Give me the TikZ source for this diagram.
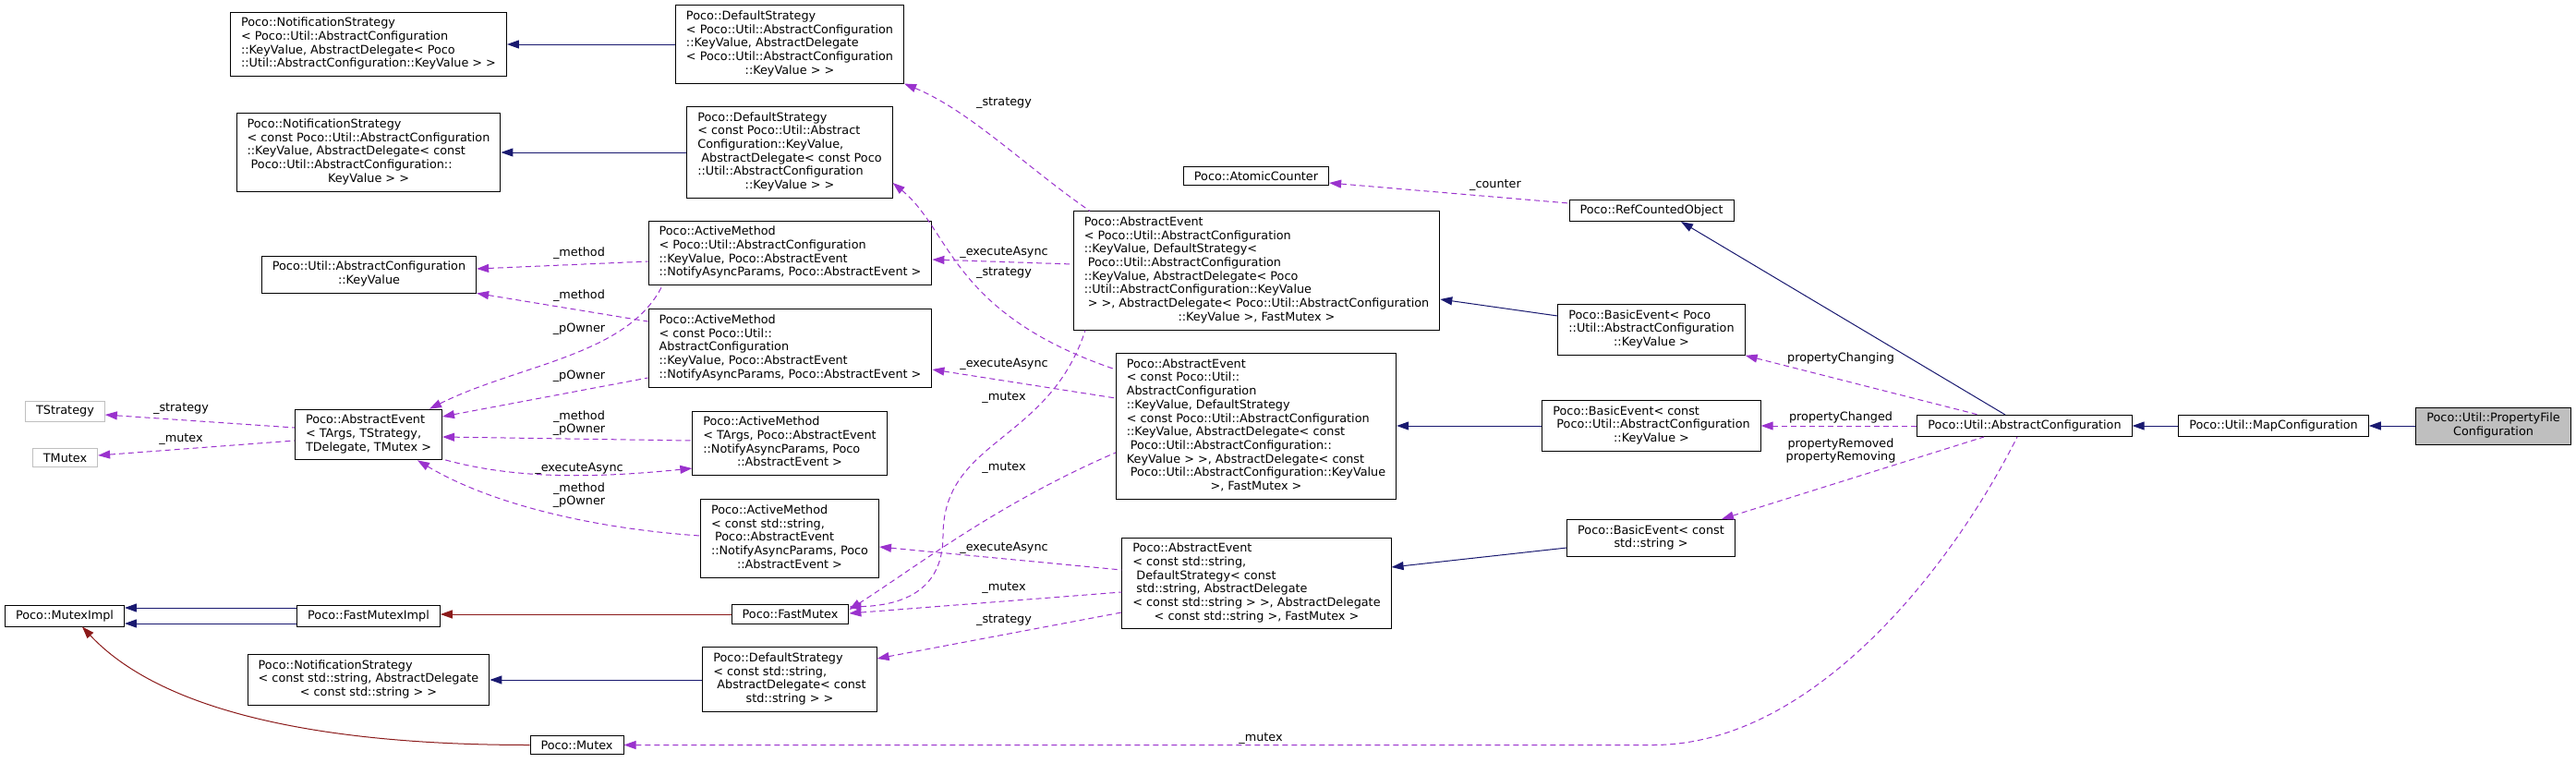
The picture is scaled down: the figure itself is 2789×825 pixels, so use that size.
\documentclass[tikz,border=0pt]{standalone}
\usepackage{fontspec}
\setmainfont{DejaVu Sans}
\usepackage{tikz}
\usetikzlibrary{arrows.meta,calc,positioning}
\definecolor{edgeblue}{HTML}{191970}
\definecolor{edgered}{HTML}{8B1A1A}
\definecolor{edgepurple}{HTML}{9A32CD}
\definecolor{nodegray}{HTML}{BFBFBF}
\newcommand{\rows}[1]{\begin{tabular}{@{}l@{}}#1\end{tabular}}
\newcommand{\lastc}[1]{\multicolumn{1}{@{}c@{}}{#1}}
\begin{document}
\begin{tikzpicture}[x=1pt, y=-1pt,
    font=\fontsize{12.8}{14.7}\selectfont,
    cls/.style={draw, fill=white, line width=1pt, inner xsep=11.5pt, inner ysep=5.3pt},
    tmpl/.style={cls, draw=nodegray},
    focus/.style={cls, fill=nodegray},
    lbl/.style={inner sep=0pt, align=center},
    inh/.style={{Triangle[length=13pt,width=9pt]}-, edgeblue, line width=1pt},
    priv/.style={inh, edgered},
    uses/.style={{Triangle[length=13pt,width=9pt]}-, edgepurple, line width=1pt, dash pattern=on 6pt off 4pt}]
\useasboundingbox (0,0) rectangle (2789,825);

% left column
\node[cls] (nsKV) at (399,48) {\rows{Poco::NotificationStrategy\\< Poco::Util::AbstractConfiguration\\::KeyValue, AbstractDelegate< Poco\\\lastc{::Util::AbstractConfiguration::KeyValue > >}}};
\node[cls] (nsCKV) at (399,165) {\rows{Poco::NotificationStrategy\\< const Poco::Util::AbstractConfiguration\\::KeyValue, AbstractDelegate< const\\\ Poco::Util::AbstractConfiguration::\\\lastc{KeyValue > >}}};
\node[cls] (kv) at (399.5,297) {\rows{Poco::Util::AbstractConfiguration\\\lastc{::KeyValue}}};
\node[tmpl] (tstrat) at (70.5,445.5) {TStrategy};
\node[tmpl] (tmutex) at (70.5,495.5) {TMutex};
\node[cls] (aeGen) at (399,470.5) {\rows{Poco::AbstractEvent\\< TArgs, TStrategy,\\\lastc{TDelegate, TMutex >}}};
\node[cls] (mutexImpl) at (70,666.5) {Poco::MutexImpl};
\node[cls] (fmImpl) at (399,666.5) {Poco::FastMutexImpl};
\node[cls] (nsStr) at (399,736) {\rows{Poco::NotificationStrategy\\< const std::string, AbstractDelegate\\\lastc{< const std::string > >}}};
\node[cls] (mutex) at (624.5,806.5) {Poco::Mutex};

% strategies and active methods
\node[cls] (dsKV) at (855,48) {\rows{Poco::DefaultStrategy\\< Poco::Util::AbstractConfiguration\\::KeyValue, AbstractDelegate\\< Poco::Util::AbstractConfiguration\\\lastc{::KeyValue > >}}};
\node[cls] (dsCKV) at (855,165) {\rows{Poco::DefaultStrategy\\< const Poco::Util::Abstract\\Configuration::KeyValue,\\\ AbstractDelegate< const Poco\\::Util::AbstractConfiguration\\\lastc{::KeyValue > >}}};
\node[cls] (amKV) at (855.5,274) {\rows{Poco::ActiveMethod\\< Poco::Util::AbstractConfiguration\\::KeyValue, Poco::AbstractEvent\\::NotifyAsyncParams, Poco::AbstractEvent >}};
\node[cls] (amCKV) at (855.5,377) {\rows{Poco::ActiveMethod\\< const Poco::Util::\\AbstractConfiguration\\::KeyValue, Poco::AbstractEvent\\::NotifyAsyncParams, Poco::AbstractEvent >}};
\node[cls] (amT) at (855,480) {\rows{Poco::ActiveMethod\\< TArgs, Poco::AbstractEvent\\::NotifyAsyncParams, Poco\\\lastc{::AbstractEvent >}}};
\node[cls] (amStr) at (855,583) {\rows{Poco::ActiveMethod\\< const std::string,\\\ Poco::AbstractEvent\\::NotifyAsyncParams, Poco\\\lastc{::AbstractEvent >}}};
\node[cls] (fastMutex) at (855.5,665) {Poco::FastMutex};
\node[cls] (dsStr) at (855,735.5) {\rows{Poco::DefaultStrategy\\< const std::string,\\\ AbstractDelegate< const\\\lastc{std::string > >}}};

% events
\node[cls] (counter) at (1360,190.5) {Poco::AtomicCounter};
\node[cls] (aeKV) at (1360.5,293) {\rows{Poco::AbstractEvent\\< Poco::Util::AbstractConfiguration\\::KeyValue, DefaultStrategy<\\\ Poco::Util::AbstractConfiguration\\::KeyValue, AbstractDelegate< Poco\\::Util::AbstractConfiguration::KeyValue\\\ > >, AbstractDelegate< Poco::Util::AbstractConfiguration\\\lastc{::KeyValue >, FastMutex >}}};
\node[cls] (aeCKV) at (1360,461.5) {\rows{Poco::AbstractEvent\\< const Poco::Util::\\AbstractConfiguration\\::KeyValue, DefaultStrategy\\< const Poco::Util::AbstractConfiguration\\::KeyValue, AbstractDelegate< const\\\ Poco::Util::AbstractConfiguration::\\KeyValue > >, AbstractDelegate< const\\\ Poco::Util::AbstractConfiguration::KeyValue\\\lastc{>, FastMutex >}}};
\node[cls] (aeStr) at (1360.5,631.5) {\rows{Poco::AbstractEvent\\< const std::string,\\\ DefaultStrategy< const\\\ std::string, AbstractDelegate\\< const std::string > >, AbstractDelegate\\\lastc{< const std::string >, FastMutex >}}};
\node[cls] (rco) at (1788,228) {Poco::RefCountedObject};
\node[cls] (beKV) at (1788,357) {\rows{Poco::BasicEvent< Poco\\::Util::AbstractConfiguration\\\lastc{::KeyValue >}}};
\node[cls] (beCKV) at (1788,461) {\rows{Poco::BasicEvent< const\\\ Poco::Util::AbstractConfiguration\\\lastc{::KeyValue >}}};
\node[cls] (beStr) at (1787.5,582.5) {\rows{Poco::BasicEvent< const\\\lastc{std::string >}}};

% configurations
\node[cls] (absConf) at (2192,461) {Poco::Util::AbstractConfiguration};
\node[cls] (mapConf) at (2461.5,461) {Poco::Util::MapConfiguration};
\node[focus] (propFile) at (2699.5,461) {\rows{\lastc{Poco::Util::PropertyFile}\\\lastc{Configuration}}};

% inheritance
\draw[inh] (nsKV.east) -- (dsKV.west);
\draw[inh] (nsCKV.east) -- (dsCKV.west);
\draw[inh] (nsStr.east) -- (dsStr.west |- nsStr.east);
\draw[inh] (mutexImpl.east |- 0,658) -- (fmImpl.west |- 0,658);
\draw[inh] (mutexImpl.east |- 0,675) -- (fmImpl.west |- 0,675);
\draw[inh] (aeKV.east |- 0,324) -- (beKV.west |- 0,342);
\draw[inh] (aeCKV.east |- 0,461) -- (beCKV.west);
\draw[inh] (aeStr.east |- 0,614) -- (beStr.west |- 0,593);
\draw[inh] (rco.south -| 1820,0) -- (absConf.north -| 2171,0);
\draw[inh] (absConf) -- (mapConf);
\draw[inh] (mapConf) -- (propFile);
\draw[priv] (fmImpl.east |- 0,665) -- (fastMutex.west |- 0,665);
\draw[priv] (mutexImpl.south -| 89,0) .. controls (170,765) and (330,806.5) .. (mutex.west);

% usage
\draw[uses] (tstrat.east |- 0,449) -- (aeGen.west |- 0,463);
\draw[uses] (tmutex.east |- 0,493) -- (aeGen.west |- 0,477);
\draw[uses] (kv.east |- 0,291) -- (amKV.west |- 0,283);
\draw[uses] (kv.south east) -- (amCKV.west |- 0,348);
\draw[uses] (aeGen.north -| 465,0) .. controls (560,395) and (680,385) .. (amKV.south -| 717,0);
\draw[uses] (aeGen.east |- 0,451) -- (amCKV.west |- 0,409);
\draw[uses] (aeGen.east |- 0,473) -- (amT.west |- 0,477);
\draw[uses] (amT.west |- 0,507) .. controls (650,517) and (560,520) .. (aeGen.east |- 0,497);
\draw[uses] (aeGen.south -| 452,0) .. controls (530,545) and (640,572) .. (amStr.west |- 0,580);
\draw[uses] (dsKV.south east) .. controls (1050,120) and (1110,180) .. (aeKV.north -| 1180,0);
\draw[uses] (amKV.east |- 0,281) -- (aeKV.west |- 0,286);
\draw[uses] (dsCKV.east |- 0,198) .. controls (1030,250) and (1030,340) .. (aeCKV.west |- 0,400);
\draw[uses] (amCKV.east |- 0,400) -- (aeCKV.west |- 0,431);
\draw[uses] (fastMutex.east |- 0,657) .. controls (990,655) and (1021,630) .. (1021,580)
    .. controls (1021,475) and (1135,480) .. (aeKV.south -| 1175,0);
\draw[uses] (fastMutex.east |- 0,660) .. controls (990,615) and (1080,545) .. (aeCKV.west |- 0,490);
\draw[uses] (amStr.east |- 0,592) -- (aeStr.west |- 0,617);
\draw[uses] (fastMutex.east |- 0,664) -- (aeStr.west |- 0,641);
\draw[uses] (dsStr.east |- 0,713) -- (aeStr.west |- 0,663);
\draw[uses] (counter.east |- 0,198) -- (rco.west |- 0,220);
\draw[uses] (beKV.south east) -- (absConf.north -| 2142,0);
\draw[uses] (beCKV) -- (absConf);
\draw[uses] (beStr.north -| 1864,0) -- (absConf.south -| 2148,0);
\draw[uses] (mutex.east) -- (mutex.east -| 1790,0) .. controls (1960,806.5) and (2110,620) .. (absConf.south -| 2184,0);

% edge labels
\node[lbl] (lStrat) at (196,443) {\_strategy};
\node[lbl] (lMutex) at (196,476) {\_mutex};
\foreach \y/\t [count=\i] in {274/\_method, 320/\_method, 356/\_pOwner, 407/\_pOwner, 507/\_executeAsync}
    \node[lbl] (lGen\i) at (627,\y) {\t};
\node[lbl] (lGenA) at (627,458) {\_method\\\_pOwner};
\node[lbl] (lGenB) at (627,536) {\_method\\\_pOwner};
\foreach \y/\t [count=\i] in {112/\_strategy, 273/\_executeAsync, 296/\_strategy, 394/\_executeAsync,
    431/\_mutex, 507/\_mutex, 593/\_executeAsync, 637/\_mutex, 672/\_strategy}
    \node[lbl] (lEv\i) at (1087,\y) {\t};
\node[lbl] (lCounter) at (1619,201) {\_counter};
\node[lbl] (lChanging) at (1993,388) {propertyChanging};
\node[lbl] (lChanged) at (1993,452) {propertyChanged};
\node[lbl] (lRemoved) at (1993,488) {propertyRemoved\\propertyRemoving};
\node[lbl] (lMutexB) at (1365,800) {\_mutex};

\end{tikzpicture}
\end{document}
